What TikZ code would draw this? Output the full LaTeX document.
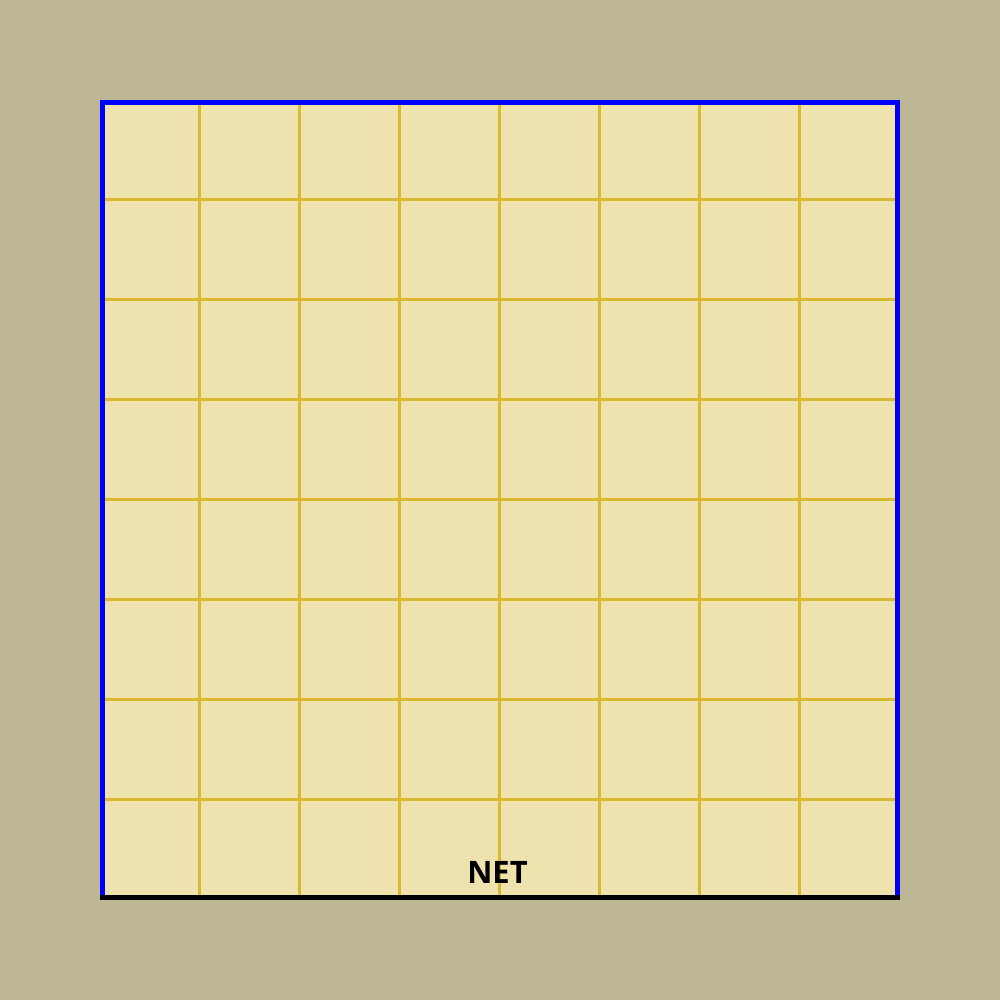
\documentclass[tikz,border=0pt]{standalone}
\usepackage{fontspec}
\setsansfont{Open Sans}
\usepackage{tikz}
\usetikzlibrary{positioning, calc}
\usepackage{xcolor}

\definecolor{bgkhaki}{RGB}{189,183,149}
\definecolor{courtfill}{RGB}{238,226,174}
\definecolor{gridgold}{RGB}{218,185,48}

\begin{document}
\begin{tikzpicture}[
    bg/.style       = {fill=bgkhaki},
    court/.style    = {fill=courtfill},
    gridline/.style = {draw=gridgold, line width=0.03cm},
    sideline/.style = {draw=blue, line width=0.05cm, line join=miter},
    netline/.style  = {draw=black, line width=0.05cm},
    netlabel/.style = {font=\sffamily\bfseries\fontsize{8.8}{10}\selectfont, inner sep=0pt},
]

%% Background and court
\fill[bg] (0,0) rectangle (10,10);
\useasboundingbox (0,0) rectangle (10,10);
\fill[court] (1,1) rectangle (9,9);

%% Grid
\foreach \x in {2,...,8}
    \draw[gridline] (\x-0.005,1.05) -- (\x-0.005,8.95);
\foreach \y in {2,...,8}
    \draw[gridline] (1.05,\y+0.005) -- (8.95,\y+0.005);

%% Boundary
\coordinate (bl) at (1.025,1.0);
\coordinate (tl) at (1.025,8.975);
\coordinate (tr) at (8.975,8.975);
\coordinate (br) at (8.975,1.0);
\draw[sideline] (bl) -- (tl) -- (tr) -- (br);

%% Net
\coordinate (netw) at (1,1.025);
\coordinate (nete) at (9,1.025);
\draw[netline] (netw) -- (nete);
\node[netlabel] (net) at (4.975,1.275) {NET};

\end{tikzpicture}
\end{document}
